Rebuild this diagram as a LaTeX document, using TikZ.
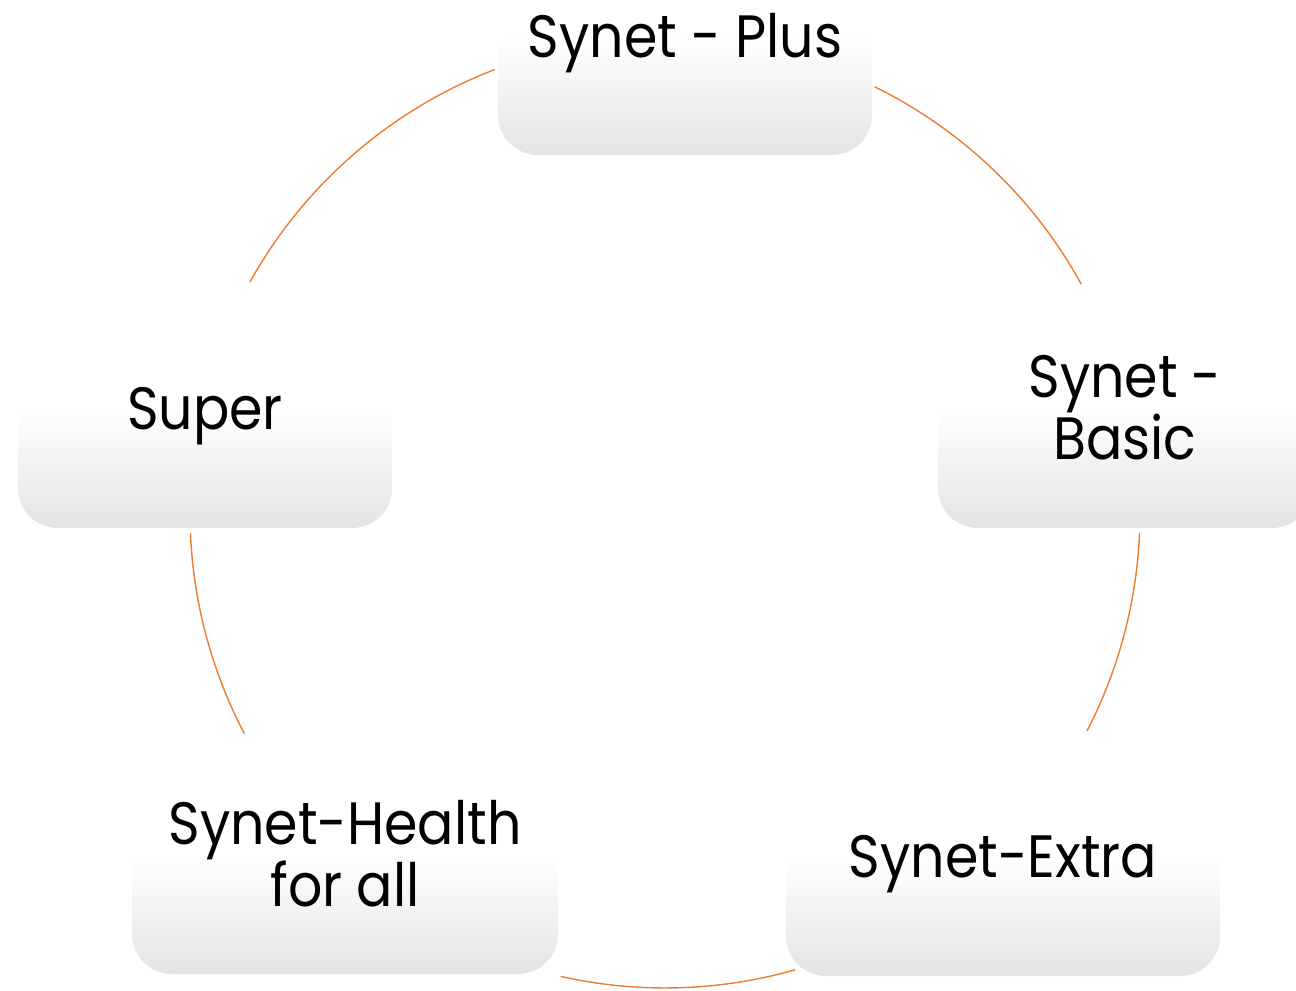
\documentclass[tikz,border=0pt]{standalone}
\usepackage{fontspec}
\setmainfont{Poppins}[FakeStretch=0.9]
\usetikzlibrary{calc}
\definecolor{ringorange}{RGB}{237,125,49}
\definecolor{boxgray}{RGB}{228,228,228}
\def\ringr{4.75}
\newcommand{\ringpart}[2]{\draw[ring] ($(hub)+(#1:\ringr)$) arc[start angle=#1, end angle=#2, radius=\ringr];}

\begin{document}
\begin{tikzpicture}[
		cyclebox/.style={rounded corners=0.4cm, fill=white,
			path picture={
				% lower half fades from white to gray, one thin strip at a time
				\foreach \k in {0,...,39}{
					\pgfmathsetmacro{\pct}{100*(\k+0.5)/40}
					\fill[sharp corners, boxgray!\pct!white]
						($(path picture bounding box.west)+(0,-0.03*\k)$) rectangle
						($(path picture bounding box.east)+(0,-0.03*\k-0.04)$);
				}},
			minimum height=2.4cm, align=center, inner sep=0pt,
			font=\fontsize{17}{17.6}\selectfont},
		oneline/.style={text depth=0pt},
		ring/.style={draw=ringorange, line width=0.4pt}]
		%%%%% START %%%%%
		
		\useasboundingbox (0, 0) rectangle (12.96, 9.9);
		\clip (0, 0) rectangle (12.96, 9.9);
		
		\coordinate (hub) at (6.65, 4.77);
		
		\ringpart{63.8}{28.8}
		\ringpart{-2.4}{-27.3}
		\ringpart{-74.1}{-102.7}
		\ringpart{-151.9}{-177.6}
		\ringpart{150.9}{111}
		
		\node[cyclebox, oneline, minimum width=3.74cm] (plus) at (6.85, 9.55) {Synet - Plus};
		\node[cyclebox, minimum width=3.74cm] (basic) at (11.25, 5.82) {Synet -\\Basic};
		\node[cyclebox, oneline, minimum width=4.34cm] (extra) at (10.03, 1.34) {Synet-Extra};
		\node[cyclebox, minimum width=4.26cm] (health) at (3.45, 1.36) {Synet-Health\\for all};
		\node[cyclebox, oneline, minimum width=3.74cm] (super) at (2.05, 5.82) {Super};
		
		%%%%% END %%%%%
	\end{tikzpicture}
\end{document}
